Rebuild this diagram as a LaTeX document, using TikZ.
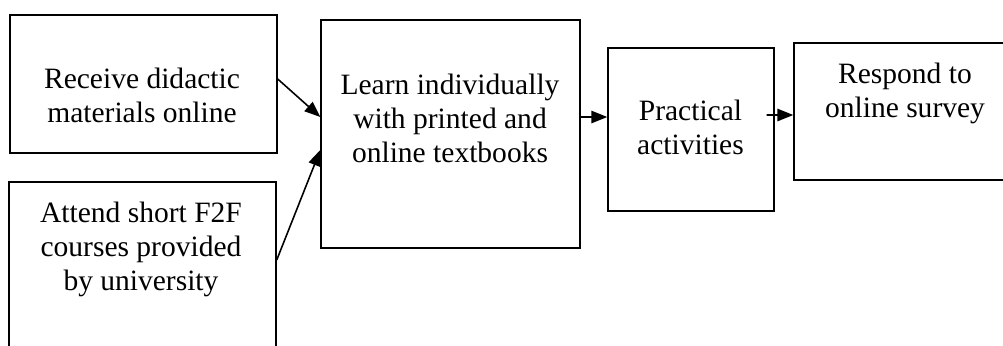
\documentclass[tikz,border=0pt]{standalone}
\usepackage{fontspec}
\setmainfont{Liberation Serif}
\usetikzlibrary{arrows.meta, positioning}

\begin{document}
\begin{tikzpicture}[
    x=0.02cm, y=-0.02cm,
    box/.style={rectangle, draw, line width=0.85pt},
    txt/.style={anchor=north, align=center, inner sep=0pt, font=\fontsize{16.8}{19.3}\selectfont},
    arrow/.style={-{Triangle[length=9pt, width=7pt]}, line width=0.9pt}
]
\clip (0,0) rectangle (1003,345);

% Boxes
\node (receive) [box, minimum width=5.34cm, minimum height=2.76cm] at (143.5,84) {};
\node (attend) [box, minimum width=5.34cm, minimum height=3.56cm] at (142.5,271) {};
\node (learn) [box, minimum width=5.18cm, minimum height=4.56cm] at (450.5,134) {};
\node (practical) [box, minimum width=3.32cm, minimum height=3.26cm] at (691,129.5) {};
\node (survey) [box, minimum width=4.32cm, minimum height=2.74cm] at (902,111.5) {};

% Texts
\node (receive-t) [txt] at (142,68) {Receive didactic\\materials online};
\node (attend-t) [txt] at (141,202) {Attend short F2F\\courses provided\\by university};
\node (learn-t) [txt] at (450,74) {Learn individually\\with printed and\\online textbooks};
\node (practical-t) [txt] at (690.5,100) {Practical\\activities};
\node (survey-t) [txt] at (905,63) {Respond to\\online survey};

% Arrows
\draw [arrow] ([yshift=0.1cm]receive.east) -- ([yshift=0.34cm]learn.west);
\draw [arrow] ([yshift=0.22cm]attend.east) -- ([yshift=-0.32cm]learn.west);
\draw [arrow] ([yshift=0.34cm]learn.east) -- ([yshift=0.25cm]practical.west);
\draw [arrow] ([xshift=-0.16cm, yshift=0.29cm]practical.east) -- ([yshift=-0.07cm]survey.west);

\end{tikzpicture}
\end{document}
